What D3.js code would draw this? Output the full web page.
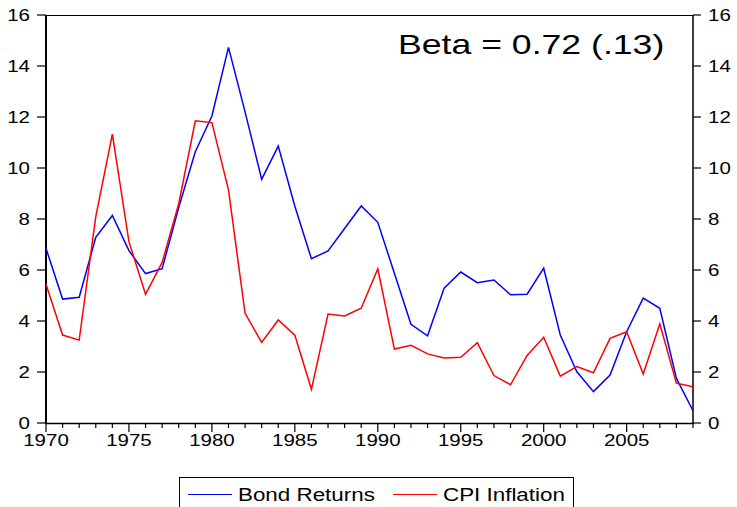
<!DOCTYPE html>
<html><head><meta charset="utf-8">
<script src="https://cdn.jsdelivr.net/npm/d3@7"></script>
<style>body{margin:0;background:#fff}svg{display:block}text{font-family:Arial,"Liberation Sans",sans-serif}</style>
</head><body><svg id="c" width="737" height="507"></svg>
<script>
const years = d3.range(1970, 2010);
const bondReturns = [6.85,4.86,4.93,7.28,8.14,6.76,5.86,6.05,8.45,10.64,12.04,14.73,12.2,9.56,10.86,8.5,6.44,6.75,7.63,8.51,7.87,5.87,3.87,3.42,5.29,5.92,5.50,5.61,5.03,5.05,6.07,3.45,2.01,1.23,1.88,3.58,4.90,4.50,1.75,0.48];
const cpiInflation = [5.44,3.45,3.25,8.09,11.33,7.11,5.05,6.30,8.6,11.85,11.78,9.14,4.30,3.16,4.04,3.44,1.32,4.27,4.20,4.50,6.05,2.90,3.05,2.71,2.55,2.58,3.15,1.86,1.50,2.65,3.36,1.84,2.21,1.97,3.32,3.58,1.92,3.89,1.56,1.42];
const yTicks = [0,2,4,6,8,10,12,14,16];
const xLabels = [1970,1975,1980,1985,1990,1995,2000,2005];
const seriesNames = ["Bond Returns","CPI Inflation"];
const seriesColors = ["#0000ff","#ff0000"];
const annotation = "Beta = 0.72 (.13)";

const svg = d3.select("#c");
const L=46, R=693, T=15, B=423;
const SX = 1.28;
const x = d3.scaleLinear().domain([1970,2009]).range([L,R]);
const y = d3.scaleLinear().domain([0,16]).range([B,T]);

function txt(g, tx, ty, size, anchor, s, sx){
  return g.append("text").attr("transform",`translate(${tx},${ty}) scale(${sx||SX},1)`)
    .attr("text-anchor",anchor).attr("font-size",size).attr("fill","#000").text(s);
}

// frame
svg.append("line").attr("x1",L).attr("x2",R).attr("y1",T+0.5).attr("y2",T+0.5).attr("stroke","#000").attr("stroke-width",1);

// bottom axis
const gx = svg.append("g").attr("transform",`translate(0,${B})`);
gx.append("line").attr("x1",L).attr("x2",R).attr("y1",0.5).attr("y2",0.5).attr("stroke","#000").attr("stroke-width",1.5);
years.forEach(yr=>{
  const major = yr%5===0;
  gx.append("line").attr("x1",x(yr)).attr("x2",x(yr)).attr("y1",0).attr("y2",major?9:5).attr("stroke","#000").attr("stroke-width",1.2);
});
xLabels.forEach(yr=>{ txt(gx, x(yr), 23, 16, "middle", yr); });

// left axis
const gl = svg.append("g");
gl.append("line").attr("x1",L).attr("x2",L).attr("y1",T).attr("y2",B+1).attr("stroke","#000").attr("stroke-width",2);
yTicks.forEach(v=>{
  gl.append("line").attr("x1",L-9).attr("x2",L).attr("y1",y(v)).attr("y2",y(v)).attr("stroke","#000").attr("stroke-width",1.2);
  txt(gl, L-16, y(v)+6, 16, "end", v);
});
// right axis
const gr = svg.append("g");
gr.append("line").attr("x1",R).attr("x2",R).attr("y1",T).attr("y2",B+1).attr("stroke","#000").attr("stroke-width",1.5);
yTicks.forEach(v=>{
  gr.append("line").attr("x1",R).attr("x2",R+8).attr("y1",y(v)).attr("y2",y(v)).attr("stroke","#000").attr("stroke-width",1.2);
  txt(gr, R+15, y(v)+6, 16, "start", v);
});

// lines
const line = d3.line().x((d,i)=>x(years[i])).y(d=>y(d));
[bondReturns,cpiInflation].forEach((s,k)=>{
  svg.append("path").datum(s).attr("d",line).attr("fill","none").attr("stroke",seriesColors[k]).attr("stroke-width",1.5).attr("stroke-linejoin","miter");
});

// annotation
txt(svg, 398, 54, 28.5, "start", annotation, 1.25);

// legend
const lg = svg.append("g");
lg.append("rect").attr("x",179.5).attr("y",477.5).attr("width",394).attr("height",40).attr("fill","#fff").attr("stroke","#000").attr("stroke-width",1);
const legX = [188,393];
seriesNames.forEach((n,k)=>{
  lg.append("line").attr("x1",legX[k]).attr("x2",legX[k]+44).attr("y1",494.5).attr("y2",494.5).attr("stroke",seriesColors[k]).attr("stroke-width",1.2);
  txt(lg, legX[k]+50, 501, 17.5, "start", n);
});
</script></body></html>
